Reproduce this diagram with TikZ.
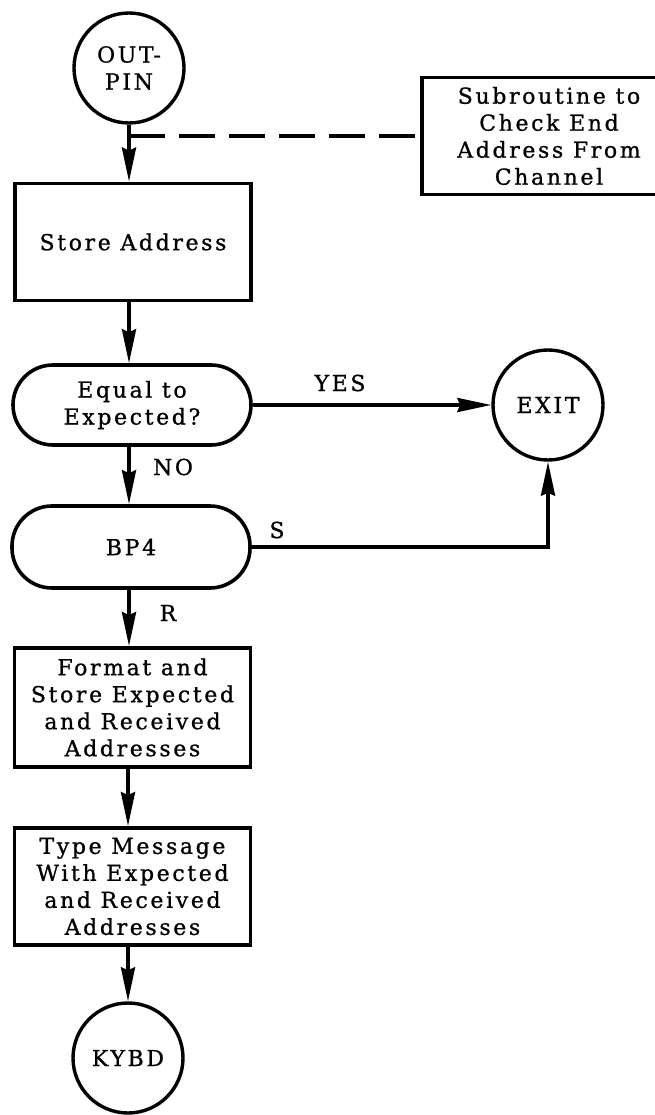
\documentclass[tikz,border=0pt]{standalone}
\usepackage{fontspec}
\setmainfont{DejaVu Serif}[LetterSpace=12, FakeBold=0.9]
\usetikzlibrary{arrows.meta}
\begin{document}
\begin{tikzpicture}[x=1pt,y=-1pt,
  every node/.style={font=\fontsize{22}{27}\selectfont, align=center, inner sep=0pt},
  boxnode/.style={draw, line width=3.8pt, rectangle, minimum width=236pt},
  roundnode/.style={draw, line width=3.6pt, rectangle, rounded corners=40pt, minimum width=238pt, minimum height=80pt},
  circnode/.style={draw, line width=3.4pt, circle, minimum size=110pt},
  arr/.style={line width=3.6pt, -{Stealth[length=34pt,width=14pt,inset=3pt]}},
  dashlink/.style={line width=3.6pt, dash pattern=on 36pt off 14pt},
  lbl/.style={font=\fontsize{22}{24}\selectfont}
]
\useasboundingbox (0,0) rectangle (655,1115);
\clip (0,0) rectangle (655,1115);

\node[circnode] (outpin) at (129,68) {OUT-\\PIN};
\node[boxnode, minimum width=254pt, minimum height=117pt] (sub) at (549,136)
  {Subroutine to\\Check End\\Address From\\Channel};
\node[boxnode, minimum height=117pt] (store) at (133,242) {Store Address};
\node[roundnode] (equal) at (132,405) {Equal to\\Expected?};
\node[circnode] (exit) at (548,405) {EXIT};
\node[roundnode, minimum height=82pt] (bp4) at (131,547) {BP4};
\node[boxnode, minimum height=119pt] (format) at (132.5,707.5)
  {Format and\\Store Expected\\and Received\\Addresses};
\node[boxnode, minimum height=117pt] (type) at (132.5,886.5)
  {Type Message\\With Expected\\and Received\\Addresses};
\node[circnode] (kybd) at (128,1058) {KYBD};

\coordinate (j) at (outpin.south |- sub.west);
\draw[arr] (outpin.south) -- (outpin.south |- store.north);
\draw[dashlink] (j) -- (sub.west);
\draw[arr] (outpin.south |- store.south) -- (outpin.south |- equal.north);
\draw[arr] (equal.east) -- (exit.west);
\draw[arr] (outpin.south |- equal.south) -- (outpin.south |- bp4.north);
\draw[arr] (bp4.east) -| (exit.south);
\draw[arr] (outpin.south |- bp4.south) -- (outpin.south |- format.north);
\draw[arr] (kybd.north |- format.south) -- (kybd.north |- type.north);
\draw[arr] (kybd.north |- type.south) -- (kybd.north);

\node[lbl] (yes) at (340,383) {YES};
\node[lbl] (no) at (173,467) {NO};
\node[lbl] (s) at (277,530) {S};
\node[lbl] (r) at (168,613) {R};
\end{tikzpicture}
\end{document}
